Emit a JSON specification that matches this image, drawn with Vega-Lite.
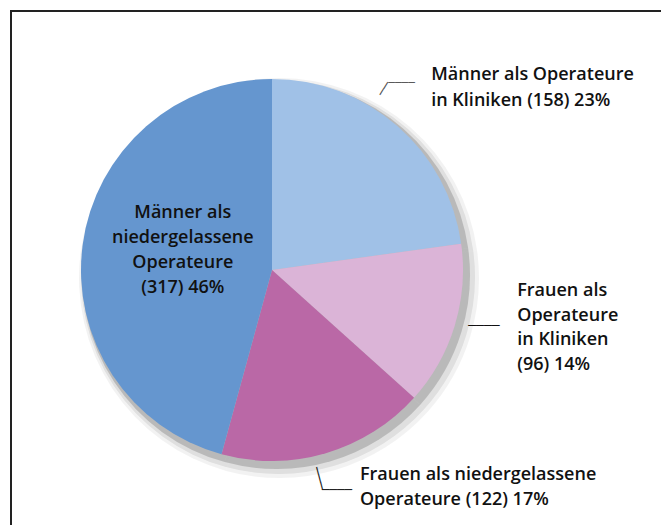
{
  "$schema": "https://vega.github.io/schema/vega-lite/v6.json",
  "autosize": "none",
  "width": 655,
  "height": 519,
  "padding": {"left": 11, "top": 11, "right": -5, "bottom": -5},
  "background": "white",
  "config": {"view": {"stroke": "#222222", "strokeWidth": 2}},
  "data": {"values": [
    {"Gruppe": "Männer als Operateure in Kliniken", "Anzahl": 158, "Reihenfolge": 1, "label": "Männer als Operateure\nin Kliniken (158) 23%"},
    {"Gruppe": "Frauen als Operateure in Kliniken", "Anzahl": 96, "Reihenfolge": 2, "label": "Frauen als\nOperateure\nin Kliniken\n(96) 14%"},
    {"Gruppe": "Frauen als niedergelassene Operateure", "Anzahl": 122, "Reihenfolge": 3, "label": "Frauen als niedergelassene\nOperateure (122) 17%"},
    {"Gruppe": "Männer als niedergelassene Operateure", "Anzahl": 317, "Reihenfolge": 4, "label": "Männer als\nniedergelassene\nOperateure\n(317) 46%"}
  ]},
  "encoding": {
    "theta": {"field": "Anzahl", "type": "quantitative", "stack": true},
    "order": {"field": "Reihenfolge", "type": "quantitative"},
    "x": {"value": 261},
    "y": {"value": 259}
  },
  "layer": [
    {"mark": {"type": "arc", "radius": 200, "color": "#000000", "opacity": 0.05},
     "encoding": {"x": {"value": 268}, "y": {"value": 267}}},
    {"mark": {"type": "arc", "radius": 197, "color": "#000000", "opacity": 0.08},
     "encoding": {"x": {"value": 267}, "y": {"value": 266}}},
    {"mark": {"type": "arc", "radius": 194, "color": "#000000", "opacity": 0.17},
     "encoding": {"x": {"value": 265}, "y": {"value": 264}}},
    {"mark": {"type": "arc", "radius": 191},
     "encoding": {
       "color": {"field": "Gruppe", "type": "nominal", "legend": null,
         "scale": {"domain": ["Männer als Operateure in Kliniken", "Frauen als Operateure in Kliniken", "Frauen als niedergelassene Operateure", "Männer als niedergelassene Operateure"],
                   "range": ["#A0C1E7", "#DBB4D7", "#BA68A6", "#6596CF"]}}
     }},
    {"mark": {"type": "text", "radius": 241, "align": "left", "baseline": "middle", "dx": 1, "dy": -13, "lineBreak": "\n", "lineHeight": 26, "font": "Open Sans", "fontSize": 18, "fontWeight": 600, "color": "#111111"},
     "encoding": {"text": {"condition": {"test": "datum.Reihenfolge == 1", "field": "label"}, "value": ""}}},
    {"mark": {"type": "text", "radius": 200, "align": "left", "baseline": "middle", "dx": 54, "dy": -37.5, "lineBreak": "\n", "lineHeight": 24.5, "font": "Open Sans", "fontSize": 18, "fontWeight": 600, "color": "#111111"},
     "encoding": {"text": {"condition": {"test": "datum.Reihenfolge == 2", "field": "label"}, "value": ""}}},
    {"mark": {"type": "text", "radius": 227, "align": "left", "baseline": "middle", "dx": 24, "dy": -13, "lineBreak": "\n", "lineHeight": 25, "font": "Open Sans", "fontSize": 18, "fontWeight": 600, "color": "#111111"},
     "encoding": {"text": {"condition": {"test": "datum.Reihenfolge == 3", "field": "label"}, "value": ""}}},
    {"mark": {"type": "text", "radius": 90, "align": "center", "baseline": "middle", "dx": 0, "dy": -44.5, "lineBreak": "\n", "lineHeight": 25, "font": "Open Sans", "fontSize": 18, "fontWeight": 600, "color": "#111111"},
     "encoding": {"text": {"condition": {"test": "datum.Reihenfolge == 4", "field": "label"}, "value": ""}}},
    {"mark": {"type": "text", "radius": 241, "align": "center", "baseline": "middle", "dx": -28.7, "dy": -5.5, "font": "DejaVu Sans", "fontSize": 11, "color": "#555555"},
     "encoding": {"text": {"condition": {"test": "datum.Reihenfolge == 1", "value": "────"}, "value": ""}}},
    {"mark": {"type": "text", "radius": 241, "align": "center", "baseline": "middle", "dx": -24.47, "dy": -39.19, "angle": -58.4, "font": "DejaVu Sans", "fontSize": 12.5, "color": "#555555"},
     "encoding": {"text": {"condition": {"test": "datum.Reihenfolge == 1", "value": "──"}, "value": ""}}},
    {"mark": {"type": "text", "radius": 200, "align": "center", "baseline": "middle", "dx": 20.7, "dy": -2.5, "font": "DejaVu Sans", "fontSize": 13, "color": "#111111"},
     "encoding": {"text": {"condition": {"test": "datum.Reihenfolge == 2", "value": "────"}, "value": ""}}},
    {"mark": {"type": "text", "radius": 227, "align": "center", "baseline": "middle", "dx": 1.1, "dy": 2.2, "font": "DejaVu Sans", "fontSize": 12.5, "color": "#222222"},
     "encoding": {"text": {"condition": {"test": "datum.Reihenfolge == 3", "value": "────"}, "value": ""}}},
    {"mark": {"type": "text", "radius": 227, "align": "center", "baseline": "middle", "dx": -13.26, "dy": 14.01, "angle": 75.4, "font": "DejaVu Sans", "fontSize": 13, "color": "#222222"},
     "encoding": {"text": {"condition": {"test": "datum.Reihenfolge == 3", "value": "───"}, "value": ""}}}
  ]
}
